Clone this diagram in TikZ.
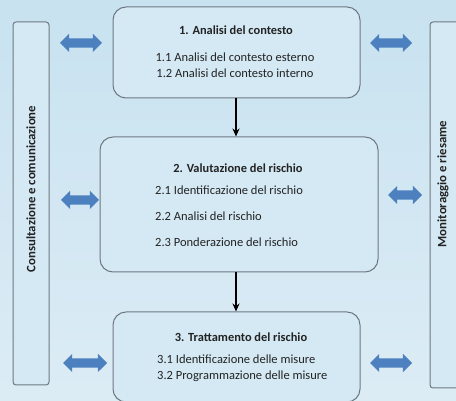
\documentclass[tikz,border=0pt]{standalone}
\usepackage{fontspec}
\setmainfont{Carlito}
\usetikzlibrary{shapes.arrows,arrows.meta}
\definecolor{bgtop}{RGB}{200,226,240}
\definecolor{bgbot}{RGB}{220,236,245}
\definecolor{boxfill}{RGB}{212,233,244}
\definecolor{boxline}{RGB}{110,120,130}
\definecolor{arrblue}{RGB}{76,128,190}
\definecolor{txt}{RGB}{35,35,35}
\tikzset{
  phasebox/.style={draw=boxline, line width=1pt, fill=boxfill, rounded corners=13pt, inner sep=0pt},
  sidebar/.style={draw=boxline, line width=1pt, fill=boxfill, rounded corners=3pt, inner sep=0pt},
  dblarrow/.style={double arrow, fill=arrblue, draw=none, inner sep=4.5pt, minimum width=9pt, double arrow head extend=4.5pt, double arrow head indent=0pt},
  title/.style={font=\bfseries\fontsize{12.4}{14}\selectfont, text=txt, inner sep=0pt},
  item/.style={font=\fontsize{12.5}{14}\selectfont, text=txt, inner sep=0pt, anchor=west},
  citem/.style={font=\fontsize{12.5}{14}\selectfont, text=txt, inner sep=0pt},
  sidetext/.style={font=\bfseries\fontsize{12.8}{14}\selectfont, text=txt, rotate=90, inner sep=0pt},
  flow/.style={-{Stealth[length=8pt,width=7pt]}, line width=1.2pt, black}
}
\begin{document}
\begin{tikzpicture}[x=1pt,y=-1pt]
\useasboundingbox (0,0) rectangle (456,401);
\shade[top color=bgtop, bottom color=bgbot] (0,0) rectangle (456,401);
% side bars
\node[sidebar, minimum width=36pt, minimum height=363pt] (lbar) at (31,203.5) {};
\node[sidebar, minimum width=44pt, minimum height=366pt] (rbar) at (452,205) {};
\node[sidetext] (ltext) at (31,189) {Consultazione e comunicazione};
\node[sidetext] (rtext) at (443,184) {Monitoraggio e riesame};
% boxes
\node[phasebox, minimum width=247pt, minimum height=91pt] (b1) at (236.5,52.5) {};
\node[phasebox, minimum width=278pt, minimum height=135pt] (b2) at (239,204.5) {};
\node[phasebox, minimum width=247pt, minimum height=90pt] (b3) at (236.5,357) {};
% texts box 1
\node[title] (t1) at (236,30) {1. Analisi del contesto};
\node[citem] (t11) at (235,57) {1.1 Analisi del contesto esterno};
\node[citem] (t12) at (235,73) {1.2 Analisi del contesto interno};
% texts box 2
\node[title] (t2) at (238,168) {2. Valutazione del rischio};
\node[item] (t21) at (155,190) {2.1 Identificazione del rischio};
\node[item] (t22) at (155,216) {2.2 Analisi del rischio};
\node[item] (t23) at (155,242) {2.3 Ponderazione del rischio};
% texts box 3
\node[title] (t3) at (241,337) {3. Trattamento del rischio};
\node[item] (t31) at (157,359) {3.1 Identificazione delle misure};
\node[item] (t32) at (157,376) {3.2 Programmazione delle misure};
% flow arrows
\draw[flow] (b1.south -| 236,0) -- (b2.north -| 236,0);
\draw[flow] (b2.south -| 236,0) -- (b3.north -| 236,0);
% double arrows
\node[dblarrow, minimum height=42pt] (la1) at (81,43) {};
\node[dblarrow, minimum height=38pt] (la2) at (80,200) {};
\node[dblarrow, minimum height=44pt] (la3) at (85,363) {};
\node[dblarrow, minimum height=42pt] (ra1) at (391,43) {};
\node[dblarrow, minimum height=34pt] (ra2) at (405,195) {};
\node[dblarrow, minimum height=42pt] (ra3) at (391,363) {};
\end{tikzpicture}
\end{document}
